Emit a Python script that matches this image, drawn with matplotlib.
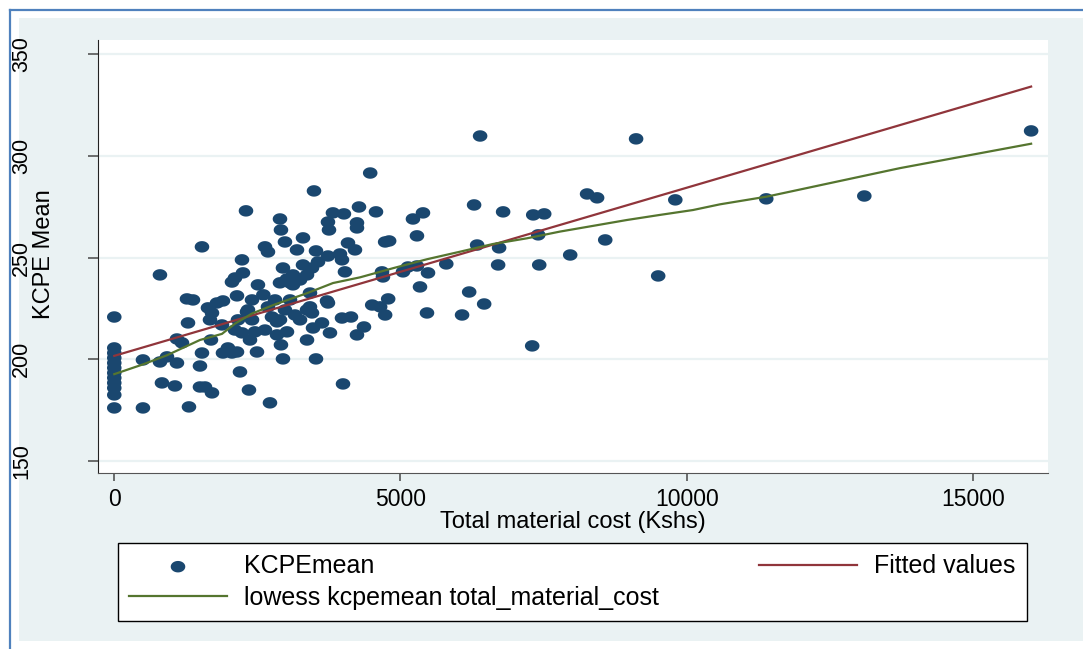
import numpy as np
import matplotlib
matplotlib.use('Agg')
import matplotlib.pyplot as plt
from matplotlib.path import Path
from matplotlib.patches import Rectangle
from matplotlib.lines import Line2D

plt.rcParams['font.family'] = ['Liberation Sans', 'DejaVu Sans']

# data (Total material cost in Kshs vs KCPE mean)
cost = [0, 0, 0, 0, 0, 0, 0, 0, 0, 0, 0, 0,
        501, 501, 833, 1060, 798, 921, 1095, 1095, 1183, 1288, 1270, 1375, 1305, 1497, 1497, 1585,
        1707, 1532, 1689, 1637, 1707, 1794, 1899, 2144, 1986, 1899, 2056, 2144, 2196, 2353, 2493,
        2161, 2231, 2406, 2510, 2406, 2336, 2720, 2755, 2685, 2108, 1881, 1672, 2318, 2458,
        2301, 1532, 798, 2231, 2248, 2109, 2056, 2633, 2685,
        4471, 3489, 2895, 2912, 3820, 4012, 3733, 3751, 4275, 4240, 4240, 4572, 5218, 5393, 5288,
        4732, 4802, 2982, 3297, 3192, 3524, 3733, 3943, 4083, 4205, 3978, 2947, 3297, 3559, 3454,
        4030, 3122, 3017, 2895, 3245, 3367, 4677, 5044, 5131, 5481, 5341,
        4785, 4506, 4645, 4732, 5463, 3978, 4135, 3716, 3733, 3245, 3629, 3472, 3768, 4240, 4362,
        3367, 2912, 3017, 2843, 2895, 2947, 3524, 3996, 3367, 3454, 3122, 3419, 3070, 3419, 2843,
        2604, 2808, 3070, 3157, 2633, 2371, 2982,
        6391, 6286, 6793, 7319, 7511, 8260, 8435, 6339, 6723, 7406, 8577, 7965, 9502, 4694, 5288,
        5800, 6706, 7424, 6200, 6462, 6076, 7301,
        9801, 9116, 11390, 13103, 16017]
kcpe = [220.8, 205.6, 203.1, 200.7, 198.2, 195.8, 193.3, 190.9, 188.4, 185.9, 182.5, 176.1,
        199.7, 176.1, 188.4, 186.9, 198.7, 201.2, 198.2, 210.0, 208.1, 217.9, 229.7, 229.2, 176.6, 196.7, 186.4, 186.4,
        183.5, 203.1, 209.5, 225.3, 222.8, 227.7, 228.7, 231.2, 205.6, 203.1, 203.1, 203.6, 193.8, 184.9, 203.6,
        219.4, 213.0, 219.4, 236.6, 229.2, 224.3, 178.6, 220.8, 225.8, 214.4, 216.9, 219.4, 223.3, 213.5,
        273.0, 255.3, 241.5, 248.9, 242.5, 240.0, 238.0, 255.3, 252.8,
        291.6, 282.8, 269.0, 263.6, 272.0, 271.5, 267.5, 263.6, 274.9, 267.1, 264.6, 272.5, 269.0, 272.0, 260.7,
        257.7, 258.2, 257.7, 259.7, 253.8, 253.3, 250.8, 251.8, 257.2, 253.8, 248.9, 244.9, 246.4, 247.9, 244.9,
        243.0, 241.5, 239.5, 237.6, 239.0, 241.5, 243.0, 243.0, 245.4, 242.5, 235.6,
        229.7, 226.7, 225.8, 221.8, 222.8, 220.3, 220.8, 228.7, 227.7, 219.4, 217.9, 215.4, 213.0, 212.0, 215.9,
        209.5, 207.1, 213.5, 212.0, 219.4, 200.2, 200.2, 187.9, 224.3, 222.8, 236.6, 232.6, 237.6, 225.8, 218.4,
        231.7, 229.2, 229.2, 221.8, 214.4, 209.5, 224.3,
        309.8, 275.9, 272.5, 271.0, 271.5, 281.3, 279.4, 256.2, 254.8, 261.2, 258.7, 251.3, 241.0, 240.5, 245.9,
        246.9, 246.4, 246.4, 233.1, 227.2, 221.8, 206.6,
        278.4, 308.4, 278.9, 280.3, 312.3]

# fitted values (end points of the regression line)
fit_x = [0, 16017]
fit_y = [201.7, 334.1]

# lowess curve
low_x = [0, 501, 921, 1497, 1881, 2108, 2406, 2808, 3367, 3821, 4293, 4870, 5463, 6039,
         6616, 7210, 7786, 8362, 8956, 9533, 10110, 10581, 11402, 13726, 16017]
low_y = [192.7, 197.5, 202.0, 209.5, 212.5, 217.5, 222.5, 227.0, 232.5, 237.5, 240.3, 244.8,
         249.2, 252.9, 256.7, 259.5, 262.8, 265.6, 268.5, 271.0, 273.4, 276.2, 280.0, 294.0, 306.0]

navy = '#1a476f'
maroon = '#90353b'
green = '#55752f'
bg = '#eaf2f3'

W, H = 1083, 649
fig = plt.figure(figsize=(W / 100, H / 100), dpi=100)
fig.patch.set_facecolor('white')

# graph region background + blue border
fig.patches.append(Rectangle((19 / W, 8 / H), (W - 19) / W, (H - 18 - 8) / H,
                             transform=fig.transFigure, facecolor=bg, edgecolor='none', zorder=-5))
fig.add_artist(Line2D([10 / W, 10 / W], [0, 1 - 10 / H], color='#4f81bd', lw=1.6, zorder=-4))
fig.add_artist(Line2D([10 / W, 1], [1 - 10 / H, 1 - 10 / H], color='#4f81bd', lw=1.6, zorder=-4))

ax = fig.add_axes([97.5 / W, 1 - 473 / H, (1048 - 97.5) / W, (473 - 40) / H])
ax.set_facecolor('white')

# ellipse marker like the stretched Stata dots
t = np.linspace(0, 2 * np.pi, 41)
dot = Path(np.column_stack([1.27 * np.cos(t), np.sin(t)]), closed=True)

sc = ax.scatter(cost, kcpe, marker=dot, s=10.5 ** 2, color=navy, edgecolors='none', zorder=3)
fl, = ax.plot(fit_x, fit_y, color=maroon, lw=1.6, zorder=4)
lw_line, = ax.plot(low_x, low_y, color=green, lw=1.6, zorder=4)

ax.set_xlim(-293, 16312)
ax.set_ylim(144.1, 357)
ax.set_xticks([0, 5000, 10000, 15000])
ax.set_yticks([150, 200, 250, 300, 350])
ax.yaxis.grid(True, color=bg, lw=1.6)
ax.set_axisbelow(True)

for s in ['top', 'right']:
    ax.spines[s].set_visible(False)
ax.spines['left'].set_color('#222222')
ax.spines['bottom'].set_color('#555555')

ax.tick_params(axis='y', length=7, width=1.2, color='#555555', pad=40, labelsize=15.5, labelrotation=90)
ax.tick_params(axis='x', length=6, width=1.2, color='#555555', pad=5, labelsize=16.5)
for lbl in ax.get_yticklabels():
    lbl.set_va('center')

fig.text(573 / W, 1 - 522 / H, 'Total material cost (Kshs)', ha='center', va='center', fontsize=17)
fig.text(44 / W, 1 - 254 / H, 'KCPE Mean', ha='center', va='center', rotation=90, fontsize=17)

leg = fig.legend([sc, lw_line, fl], ['KCPEmean', 'lowess kcpemean total_material_cost', 'Fitted values'],
                 ncol=2, mode='expand', loc='upper left',
                 bbox_to_anchor=(118 / W, 1 - 617 / H, 909 / W, 74 / H), bbox_transform=fig.transFigure,
                 borderaxespad=0, fancybox=False, edgecolor='black', framealpha=1,
                 fontsize=18, handlelength=3.9, handletextpad=0.7, labelspacing=0.3,
                 borderpad=0.45, scatterpoints=1, columnspacing=2.0)
leg.get_frame().set_linewidth(1.0)

fig.savefig('out.png', dpi=100)
